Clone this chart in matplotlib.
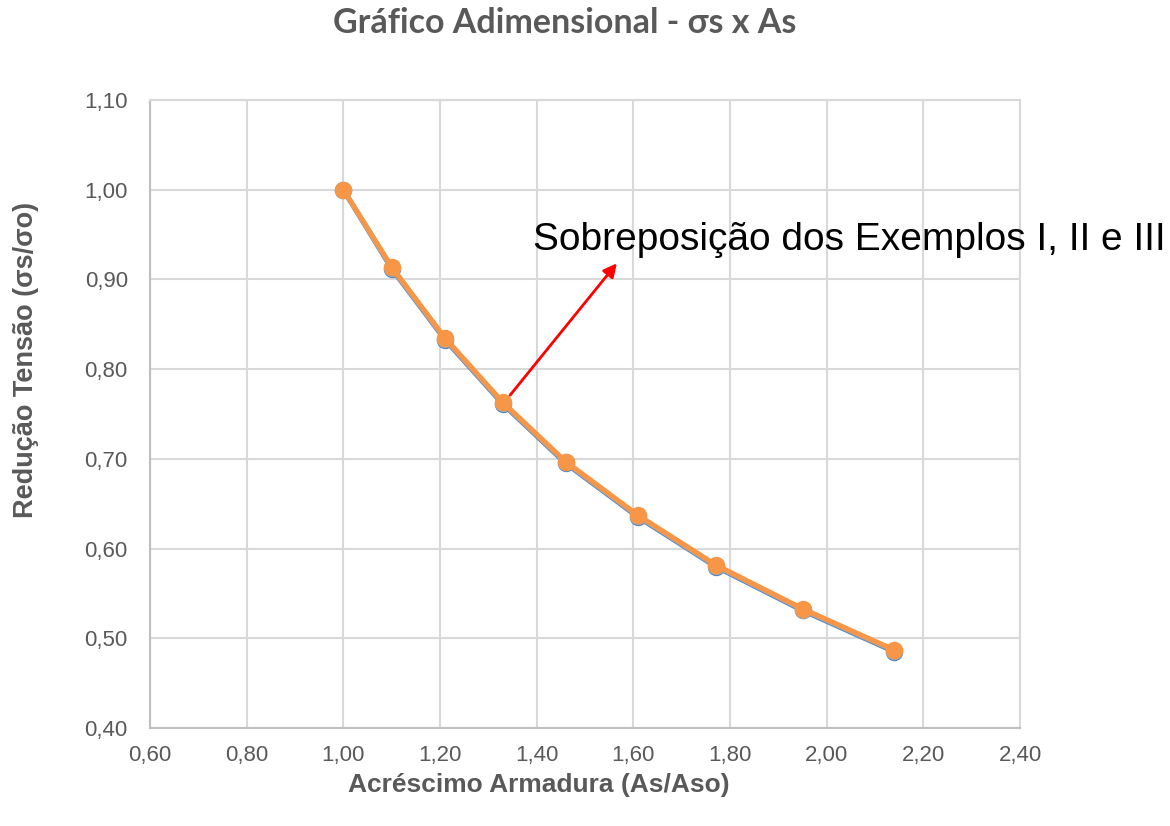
import matplotlib
matplotlib.use("Agg")
import matplotlib.pyplot as plt
from matplotlib.ticker import FixedLocator, FuncFormatter

# Armadura relativa (As/Aso) e redução de tensão (σs/σo)
as_ratio = [1.00, 1.10, 1.21, 1.33, 1.46, 1.61, 1.77, 1.95, 2.14]
sigma_ex1 = [1.000, 0.912, 0.833, 0.761, 0.695, 0.635, 0.580, 0.531, 0.485]
sigma_ex2 = [1.000, 0.913, 0.834, 0.762, 0.696, 0.636, 0.581, 0.532, 0.486]
sigma_ex3 = [1.000, 0.914, 0.835, 0.763, 0.697, 0.637, 0.582, 0.533, 0.487]

x_ticks = [0.60, 0.80, 1.00, 1.20, 1.40, 1.60, 1.80, 2.00, 2.20, 2.40]
y_ticks = [0.40, 0.50, 0.60, 0.70, 0.80, 0.90, 1.00, 1.10]

title = "Gráfico Adimensional - σs x As"
x_label = "Acréscimo Armadura (As/Aso)"
y_label = "Redução Tensão (σs/σo)"
note = "Sobreposição dos Exemplos I, II e III"

grey_text = "#595959"
grid_col = "#D9D9D9"

fig = plt.figure(figsize=(11.7, 8.26), dpi=100)
ax = fig.add_axes([150 / 1170, 1 - 728 / 826, 870 / 1170, 628 / 826])

ax.plot(as_ratio, sigma_ex1, color="#4F81BD", lw=3.6, marker="o", ms=11.5, zorder=3)
ax.plot(as_ratio, sigma_ex2, color="#A5A5A5", lw=3.6, marker="o", ms=11.5, zorder=4)
ax.plot(as_ratio, sigma_ex3, color="#F79646", lw=3.6, marker="o", ms=11.5, zorder=5)

ax.set_xlim(x_ticks[0], x_ticks[-1])
ax.set_ylim(y_ticks[0], y_ticks[-1])
ax.xaxis.set_major_locator(FixedLocator(x_ticks))
ax.yaxis.set_major_locator(FixedLocator(y_ticks))
fmt = FuncFormatter(lambda v, p: f"{v:.2f}".replace(".", ","))
ax.xaxis.set_major_formatter(fmt)
ax.yaxis.set_major_formatter(fmt)
ax.tick_params(axis="x", length=0, labelsize=16, labelcolor=grey_text, pad=12)
ax.tick_params(axis="y", length=0, labelsize=16, labelcolor=grey_text, pad=16)
for lab in ax.get_xticklabels() + ax.get_yticklabels():
    lab.set_fontfamily("Liberation Sans")

ax.grid(True, color=grid_col, lw=1.5, zorder=0)
ax.set_axisbelow(True)
for side, sp in ax.spines.items():
    sp.set_color(grid_col)
    sp.set_linewidth(1.5)
ax.spines["left"].set_color("#BFBFBF")
ax.spines["bottom"].set_color("#BFBFBF")

fig.text(565 / 1170, 1 - 23 / 826, title, ha="center", va="center",
         fontsize=24.5, fontweight="bold", color=grey_text, family="Lato")
fig.text(539 / 1170, 1 - 785 / 826, x_label, ha="center", va="center",
         fontsize=19, fontweight="bold", color=grey_text, family="Liberation Sans")
fig.text(26 / 1170, 1 - 360 / 826, y_label, ha="center", va="center", rotation=90,
         fontsize=19.5, fontweight="bold", color=grey_text, family="Liberation Sans")

ax.annotate("", xy=(1.566, 0.918), xytext=(1.345, 0.771),
            arrowprops=dict(arrowstyle="-|>", color="red", lw=2,
                            mutation_scale=20, shrinkA=0, shrinkB=0),
            zorder=6)
ax.text(1.392, 0.933, note, fontsize=28, color="black", family="Liberation Sans",
        ha="left", va="baseline", clip_on=False, zorder=6)

fig.savefig("out.png", dpi=100)
